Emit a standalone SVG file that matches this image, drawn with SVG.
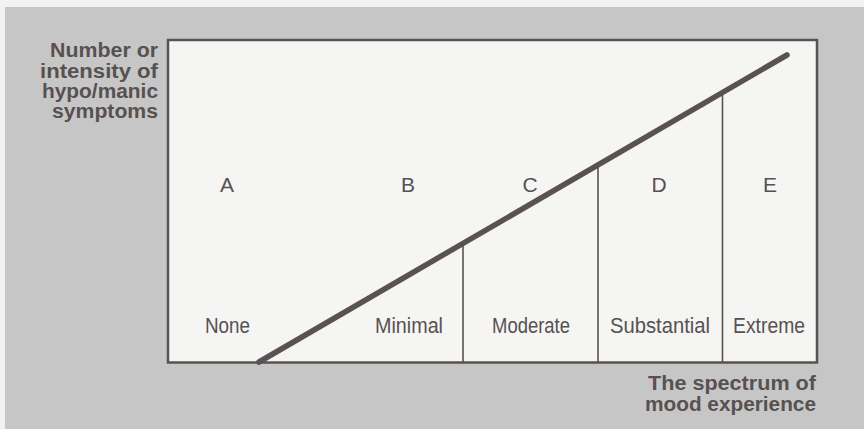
<svg xmlns="http://www.w3.org/2000/svg" width="864" height="429" viewBox="0 0 864 429">
<style>
.bg{fill:#c7c6c6}
.frame{fill:#f5f5f4;stroke:#5a5252;stroke-width:2.5}
.diag{stroke:#5a5252;stroke-width:5.5;stroke-linecap:round;fill:none}
.div{stroke:#5a5252;stroke-width:1.6;fill:none}
.axis{font-family:"Liberation Sans",Arial,sans-serif;font-weight:bold;font-size:19.5px;fill:#575151;text-anchor:end}
.letter{font-family:"Liberation Sans",Arial,sans-serif;font-size:21px;fill:#575151;text-anchor:middle}
.lvl{font-family:"Liberation Sans",Arial,sans-serif;font-size:22px;fill:#575151}
</style>
<rect x="0" y="0" width="864" height="429" fill="#f2f2f2"/>
<rect class="bg" x="5" y="7" width="859" height="422"/>
<g id="y-axis-label">
<text class="axis" x="158" y="57" textLength="108" lengthAdjust="spacingAndGlyphs">Number or</text>
<text class="axis" x="158" y="78" textLength="118" lengthAdjust="spacingAndGlyphs">intensity of</text>
<text class="axis" x="158" y="98" textLength="116" lengthAdjust="spacingAndGlyphs">hypo/manic</text>
<text class="axis" x="158" y="118" textLength="106" lengthAdjust="spacingAndGlyphs">symptoms</text>
</g>
<g id="x-axis-label">
<text class="axis" x="816" y="390" textLength="168" lengthAdjust="spacingAndGlyphs">The spectrum of</text>
<text class="axis" x="816" y="411" textLength="171" lengthAdjust="spacingAndGlyphs">mood experience</text>
</g>
<g id="chart-frame">
<rect class="frame" x="168" y="40" width="649" height="322.5"/>
</g>
<g id="connectors">
<line class="diag" x1="259" y1="362" x2="787" y2="55"/>
<line class="div" x1="463" y1="244" x2="463" y2="362"/>
<line class="div" x1="598" y1="165" x2="598" y2="362"/>
<line class="div" x1="722.5" y1="93" x2="722.5" y2="362"/>
</g>
<g id="zone-A">
<text class="letter" x="227" y="192">A</text>
<text class="lvl" x="205" y="333" textLength="45" lengthAdjust="spacingAndGlyphs">None</text>
</g>
<g id="zone-B">
<text class="letter" x="408" y="192">B</text>
<text class="lvl" x="375" y="333" textLength="68" lengthAdjust="spacingAndGlyphs">Minimal</text>
</g>
<g id="zone-C">
<text class="letter" x="530" y="192">C</text>
<text class="lvl" x="492" y="333" textLength="78" lengthAdjust="spacingAndGlyphs">Moderate</text>
</g>
<g id="zone-D">
<text class="letter" x="659" y="192">D</text>
<text class="lvl" x="610" y="333" textLength="100" lengthAdjust="spacingAndGlyphs">Substantial</text>
</g>
<g id="zone-E">
<text class="letter" x="770" y="192">E</text>
<text class="lvl" x="733" y="333" textLength="72" lengthAdjust="spacingAndGlyphs">Extreme</text>
</g>
</svg>
